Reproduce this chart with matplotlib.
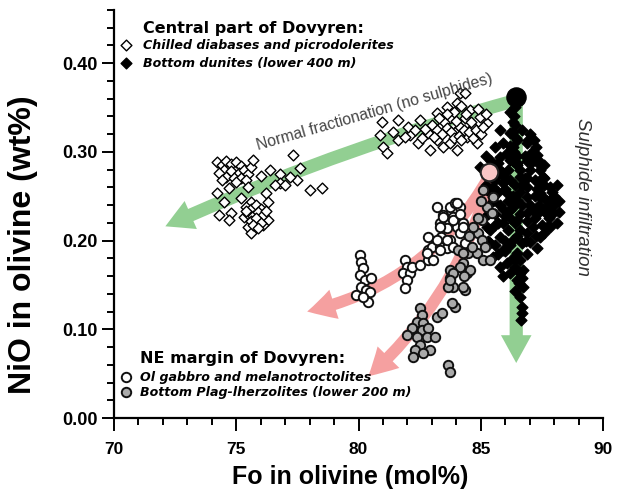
import matplotlib
matplotlib.use("Agg")
import matplotlib.pyplot as plt
from matplotlib.patches import FancyArrowPatch
import numpy as np

# --- Central part of Dovyren: chilled diabases and picrodolerites (Fo, NiO) ---
chilled_fo = [74.2, 74.4, 74.6, 74.8, 75.0, 75.2, 74.5, 74.8, 75.1, 75.3, 74.3, 74.6, 74.9, 75.2, 75.5,
              74.4, 75.0, 75.6, 75.4, 75.7, 77.3, 76.0, 76.4, 76.8, 77.6, 77.5, 78.0, 78.5, 74.2,
              74.7, 75.5, 76.2, 76.8, 74.5, 75.2, 75.6, 76.3, 74.3, 74.8, 75.3, 75.9, 76.3, 75.5,
              76.1, 74.7, 75.6, 75.4, 75.6, 75.8, 76.0, 75.5, 75.7, 75.9, 76.1, 75.6, 75.8, 76.0,
              75.7, 75.9, 75.4, 76.2, 76.6, 77.0, 77.2,
              80.96, 81.62, 80.88, 81.0, 81.17, 81.62, 82.11, 82.52, 82.02, 82.43, 82.84, 83.21,
              83.33, 83.21, 83.62, 84.03, 84.15, 83.74, 83.95, 83.46, 83.74, 84.15, 84.36, 84.56,
              84.44, 84.68, 84.85, 84.97, 85.26, 82.92, 84.03, 84.36, 83.0, 83.2, 83.4, 83.5, 83.6,
              83.8, 83.9, 84.0, 84.1, 84.2, 84.3, 84.5, 84.6, 84.7, 84.8, 83.1, 82.7, 82.6, 84.4,
              83.9, 85.0, 85.1, 83.3, 82.3, 81.9, 81.4, 84.9, 84.2, 85.2, 83.6]
chilled_nio = [0.288, 0.285, 0.290, 0.286, 0.288, 0.284, 0.280, 0.278, 0.276, 0.280, 0.276, 0.272, 0.270,
               0.271, 0.275, 0.268, 0.266, 0.283, 0.268, 0.291, 0.296, 0.273, 0.279, 0.275, 0.282,
               0.268, 0.257, 0.259, 0.254, 0.259, 0.260, 0.254, 0.265, 0.243, 0.248, 0.243, 0.243,
               0.229, 0.231, 0.226, 0.223, 0.223, 0.215, 0.218, 0.223, 0.209, 0.238, 0.235, 0.240,
               0.236, 0.230, 0.228, 0.232, 0.229, 0.222, 0.225, 0.220, 0.218, 0.214, 0.233, 0.233,
               0.262, 0.262, 0.272,
               0.334, 0.336, 0.319, 0.305, 0.299, 0.313, 0.319, 0.336, 0.328, 0.310, 0.321, 0.344,
               0.328, 0.313, 0.350, 0.355, 0.366, 0.338, 0.322, 0.305, 0.310, 0.328, 0.338, 0.347,
               0.317, 0.328, 0.310, 0.339, 0.332, 0.302, 0.302, 0.366, 0.330, 0.325, 0.320, 0.333,
               0.327, 0.322, 0.315, 0.335, 0.318, 0.313, 0.325, 0.322, 0.333, 0.316, 0.325, 0.317,
               0.326, 0.316, 0.343, 0.345, 0.320, 0.328, 0.338, 0.324, 0.317, 0.322, 0.348, 0.352,
               0.342, 0.342]

# --- Central part of Dovyren: bottom dunites (lower 400 m) ---
dunite_fo = [86.40, 86.35, 86.40, 86.30, 86.45, 86.20, 86.35, 86.10, 86.30, 86.50,
             86.20, 86.32, 85.79, 86.20, 86.48, 86.32, 86.07, 85.79, 86.20, 86.48, 87.18, 87.26,
             87.14, 87.34, 84.97, 85.71, 85.91, 86.20, 86.61, 87.42, 87.55, 87.83, 86.89, 87.42,
             85.26, 85.50, 86.07, 86.48, 86.89, 87.42, 87.96, 86.20, 86.89, 87.55, 87.96, 85.91,
             86.48, 87.14, 87.71, 85.38, 85.79, 86.32, 86.89, 87.42, 85.38, 85.91, 86.48, 85.50,
             86.07, 86.61, 86.20, 86.73, 86.48, 86.73, 86.61,
             85.9, 86.0, 86.1, 85.8, 86.3, 86.6, 86.7, 86.0, 85.6, 85.7, 85.6, 85.4, 85.7, 86.4,
             86.8, 87.0, 87.2, 87.0, 87.2, 87.3, 87.6, 87.7, 87.8, 88.0, 87.9, 88.1, 88.2, 87.6,
             87.0, 87.3, 86.6, 86.1, 85.6, 85.6, 86.2, 86.7, 86.3, 85.8, 85.9, 86.4, 86.9, 87.1,
             87.0, 87.3, 87.6, 87.1, 86.8, 86.9, 86.7, 86.6, 85.4, 85.2, 85.6, 85.9, 85.5, 85.2,
             86.9, 87.4, 88.1, 87.5, 86.5, 86.0, 86.6, 86.4, 86.55, 86.7, 86.7, 86.7, 86.65,
             85.3, 85.25, 85.3, 87.9, 87.83, 86.95,
             85.8, 86.0, 86.6, 86.9, 87.2, 87.5, 87.8, 88.0, 87.3, 86.4, 86.3, 85.9, 86.0, 85.7,
             86.9, 87.6, 87.4, 87.1, 86.2, 85.5, 87.7, 88.2, 86.5, 85.7, 86.5, 86.85, 87.25, 86.1,
             86.7, 87.45]
dunite_nio = [0.350, 0.340, 0.330, 0.322, 0.315, 0.307, 0.300, 0.296, 0.290, 0.285,
              0.345, 0.334, 0.325, 0.321, 0.313, 0.305, 0.299, 0.294, 0.291, 0.287, 0.313, 0.305,
              0.294, 0.287, 0.283, 0.287, 0.276, 0.268, 0.272, 0.279, 0.272, 0.260, 0.260, 0.254,
              0.257, 0.249, 0.254, 0.246, 0.249, 0.249, 0.249, 0.234, 0.231, 0.234, 0.231, 0.220,
              0.223, 0.215, 0.215, 0.212, 0.204, 0.201, 0.208, 0.204, 0.197, 0.189, 0.186, 0.181,
              0.175, 0.178, 0.163, 0.167, 0.155, 0.148, 0.136,
              0.265, 0.258, 0.245, 0.240, 0.238, 0.230, 0.240, 0.228, 0.230, 0.255, 0.268, 0.272,
              0.275, 0.262, 0.270, 0.280, 0.268, 0.240, 0.225, 0.258, 0.262, 0.245, 0.225, 0.240,
              0.255, 0.220, 0.232, 0.208, 0.198, 0.192, 0.212, 0.212, 0.218, 0.195, 0.195, 0.197,
              0.180, 0.170, 0.160, 0.170, 0.185, 0.300, 0.320, 0.296, 0.285, 0.288, 0.295, 0.310,
              0.325, 0.280, 0.290, 0.295, 0.305, 0.310, 0.245, 0.262, 0.222, 0.240, 0.262, 0.218,
              0.205, 0.188, 0.163, 0.143, 0.152, 0.158, 0.125, 0.118, 0.110, 0.230, 0.215, 0.200,
              0.231, 0.215, 0.313,
              0.280, 0.270, 0.255, 0.270, 0.250, 0.250, 0.240, 0.250, 0.230, 0.220, 0.250, 0.235,
              0.200, 0.185, 0.290, 0.270, 0.290, 0.235, 0.225, 0.260, 0.230, 0.245, 0.295, 0.220,
              0.180, 0.200, 0.205, 0.280, 0.263, 0.265]

# --- NE margin of Dovyren: Ol gabbro and melanotroctolites ---
gabbro_fo = [80.06, 80.10, 80.18, 80.06, 80.27, 80.51, 80.10, 80.31, 79.90, 80.47, 80.39, 80.18,
             81.90, 81.98, 81.82, 82.11, 81.98, 81.90, 82.19, 82.52, 82.84, 82.84, 83.00,
             83.21, 83.46, 83.74, 83.95, 84.15, 83.87, 83.33, 83.62, 84.03, 84.27, 83.38, 83.74,
             83.33, 83.62, 84.15, 84.36, 84.03, 83.46, 83.87, 84.15, 83.33, 84.27, 82.84, 83.21,
             83.62, 83.87, 82.80, 83.33, 83.05]
gabbro_nio = [0.184, 0.176, 0.169, 0.161, 0.155, 0.158, 0.148, 0.144, 0.139, 0.142, 0.131, 0.136,
              0.178, 0.170, 0.163, 0.163, 0.155, 0.146, 0.170, 0.172, 0.178, 0.189, 0.193,
              0.238, 0.229, 0.238, 0.242, 0.238, 0.226, 0.220, 0.214, 0.215, 0.220, 0.204, 0.201,
              0.193, 0.192, 0.208, 0.197, 0.242, 0.226, 0.223, 0.230, 0.215, 0.215, 0.204, 0.201,
              0.201, 0.193, 0.186, 0.189, 0.178]

# --- NE margin of Dovyren: bottom Plag-lherzolites (lower 200 m) ---
lherz_fo = [83.74, 83.74, 83.87, 83.66, 84.27, 84.36, 84.44, 84.07, 84.48,
            82.52, 82.60, 82.39, 82.64, 82.19, 82.60, 82.84, 81.98, 82.39, 82.80, 83.13, 82.52,
            82.31, 82.92, 82.23, 82.64, 83.21, 83.42, 83.95, 83.83, 83.66, 83.74,
            85.26, 85.05, 84.89, 85.05, 85.17, 84.85, 85.09, 84.64, 84.27, 84.15, 84.56, 83.87,
            83.74, 84.27, 85.38, 85.09, 85.50, 85.46, 84.70, 84.90, 84.50, 85.00, 84.30]
lherz_nio = [0.167, 0.158, 0.148, 0.148, 0.175, 0.144, 0.163, 0.189, 0.186,
             0.124, 0.116, 0.108, 0.107, 0.101, 0.099, 0.101, 0.094, 0.091, 0.091, 0.091, 0.082,
             0.077, 0.077, 0.069, 0.073, 0.114, 0.118, 0.125, 0.130, 0.060, 0.052,
             0.238, 0.223, 0.208, 0.201, 0.193, 0.186, 0.178, 0.193, 0.186, 0.170, 0.167, 0.163,
             0.155, 0.148, 0.178, 0.257, 0.249, 0.231, 0.215, 0.225, 0.205, 0.245, 0.160]

# starting melts and trend arrows (Fo, NiO)
primitive_melt = (86.45, 0.362)
sulphide_melt = (85.35, 0.277)
green_trend = [(86.45, 0.358), (72.1, 0.216)]
green_drop = [(86.45, 0.355), (86.45, 0.062)]
pink_trend_1 = [(85.3, 0.270), (77.9, 0.120)]
pink_trend_2 = [(85.35, 0.268), (80.4, 0.047)]

plt.rcParams['font.family'] = ['Liberation Sans', 'DejaVu Sans']

fig = plt.figure(figsize=(6.22, 4.93), dpi=100)
ax = fig.add_axes([0.1833, 0.1521, 0.7862, 0.8281])

green = '#92cf92'
pink = '#f5a0a0'

def trend_arrow(pts, color, rad, tail=0.95, head_w=2.2, head_l=2.0):
    arr = FancyArrowPatch(pts[0], pts[1], connectionstyle=f"arc3,rad={rad}",
                          arrowstyle=f"simple,head_length={head_l},head_width={head_w},tail_width={tail}",
                          mutation_scale=10, color=color, lw=0, shrinkA=0, shrinkB=0, zorder=1)
    ax.add_patch(arr)

trend_arrow(green_trend, green, 0.04)
trend_arrow(green_drop, green, 0.0)
trend_arrow(pink_trend_1, pink, -0.22, tail=0.85)
trend_arrow(pink_trend_2, pink, -0.15, tail=0.85)

# marker styles shared by the plot and the legend blocks
open_dia = dict(marker='D', s=30, facecolor='white', edgecolor='black', linewidth=1.0)
full_dia = dict(marker='D', s=30, facecolor='black', edgecolor='black', linewidth=1.0)
open_circ = dict(marker='o', s=46, facecolor='white', edgecolor='#111111', linewidth=1.4)
grey_circ = dict(marker='o', s=46, facecolor='#aaaaaa', edgecolor='#111111', linewidth=1.4)

# data points
ax.scatter(chilled_fo, chilled_nio, zorder=3, **open_dia)
ax.scatter(dunite_fo, dunite_nio, zorder=3, **full_dia)
ax.scatter(gabbro_fo, gabbro_nio, zorder=3, **open_circ)
ax.scatter(lherz_fo, lherz_nio, zorder=3, **grey_circ)

ax.scatter(*primitive_melt, marker='o', s=190, color='black', zorder=5)
ax.scatter(*sulphide_melt, marker='o', s=160, facecolor='#f9c6c6', edgecolor='#222222', linewidth=1.5, zorder=5)

# trend annotations
ax.text(75.9, 0.302, 'Normal fractionation (no sulphides)', rotation=16, rotation_mode='anchor',
        ha='left', va='baseline', fontsize=11.3, color='#454545', zorder=6)
ax.text(89.15, 0.249, 'Sulphide infiltration', rotation=270, ha='center', va='center',
        fontsize=13.5, style='italic', color='#303030')

# legend blocks
leg = dict(transform=ax.transAxes, family='DejaVu Sans', weight='bold', va='center', ha='left')
ax.text(0.059, 0.955, 'Central part of Dovyren:', fontsize=11.5, **leg)
ax.text(0.059, 0.913, 'Chilled diabases and picrodolerites', fontsize=9.1, style='italic', **leg)
ax.text(0.059, 0.869, 'Bottom dunites (lower 400 m)', fontsize=9.1, style='italic', **leg)
ax.text(0.053, 0.147, 'NE margin of Dovyren:', fontsize=11.5, **leg)
ax.text(0.053, 0.100, 'Ol gabbro and melanotroctolites', fontsize=9.1, style='italic', **leg)
ax.text(0.053, 0.063, 'Bottom Plag-lherzolites (lower 200 m)', fontsize=9.1, style='italic', **leg)
ax.scatter([0.025], [0.913], transform=ax.transAxes, clip_on=False, **open_dia)
ax.scatter([0.025], [0.869], transform=ax.transAxes, clip_on=False, **full_dia)
ax.scatter([0.025], [0.100], transform=ax.transAxes, clip_on=False, **open_circ)
ax.scatter([0.025], [0.063], transform=ax.transAxes, clip_on=False, **grey_circ)

# axes
ax.set_xlim(70, 90)
ax.set_ylim(0, 0.46)
ax.set_xticks(np.arange(70, 91, 5))
ax.set_xticks(np.arange(70, 91, 1), minor=True)
ax.set_yticks(np.arange(0, 0.41, 0.1))
ax.set_yticks(np.arange(0, 0.461, 0.02), minor=True)
ax.yaxis.set_major_formatter(matplotlib.ticker.FormatStrFormatter('%.2f'))
for s in ['top', 'right']:
    ax.spines[s].set_visible(False)
for s in ['left', 'bottom']:
    ax.spines[s].set_linewidth(1.6)
ax.tick_params(which='major', direction='out', length=9, width=1.4)
ax.tick_params(which='minor', direction='out', length=5, width=1.4)
ax.tick_params(axis='x', which='major', pad=8, labelsize=12.5)
ax.tick_params(axis='y', which='major', pad=3, labelsize=13)
for lab in ax.get_xticklabels() + ax.get_yticklabels():
    lab.set_fontweight('bold')

ax.set_xlabel('Fo in olivine (mol%)', fontsize=18, fontweight='bold')
ax.set_ylabel('NiO in olivine (wt%)', fontsize=23, fontweight='bold')
ax.xaxis.set_label_coords(0.483, -0.115)
ax.yaxis.set_label_coords(-0.155, 0.424)

plt.savefig('out.png', dpi=100)
